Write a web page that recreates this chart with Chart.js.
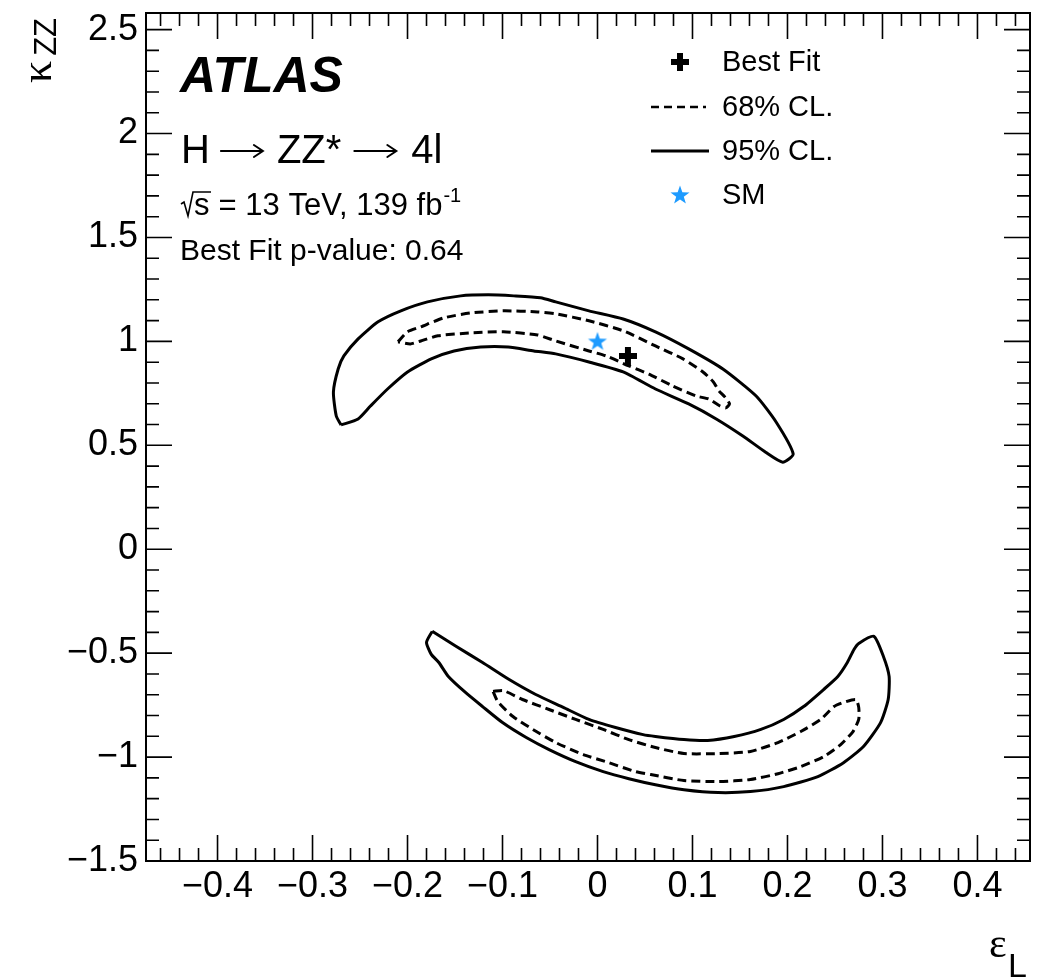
<!DOCTYPE html>
<html>
<head>
<meta charset="utf-8">
<script src="https://cdn.jsdelivr.net/npm/chart.js@4.4.1/dist/chart.umd.min.js"></script>
<style>
  html, body { margin: 0; padding: 0; background: #fff; }
  canvas { display: block; }
</style>
</head>
<body>
<canvas id="c" width="1045" height="978"></canvas>
<script>
// kappa_ZZ vs epsilon_L likelihood scan, H -> ZZ* -> 4l.
// Two separate allowed bands (kappa > 0 and kappa < 0), each with a 68% and 95% contour.

const X_MIN = -0.4753, X_MAX = 0.4553;
const Y_MIN = -1.5, Y_MAX = 2.58;
const X_TICKS = [-0.4, -0.3, -0.2, -0.1, 0, 0.1, 0.2, 0.3, 0.4];
const Y_TICKS = [-1.5, -1, -0.5, 0, 0.5, 1, 1.5, 2, 2.5];

// upper band, 95% CL (eps_L, kappa_ZZ)
const UPPER_95 = [
  [-0.270, 0.598], [-0.252, 0.627], [-0.239, 0.689], [-0.221, 0.771], [-0.200, 0.853],
  [-0.175, 0.916], [-0.151, 0.954], [-0.123, 0.973], [-0.094, 0.973], [-0.067, 0.954],
  [-0.044, 0.940], [-0.009, 0.901], [0.027, 0.853], [0.061, 0.771], [0.096, 0.699],
  [0.125, 0.627], [0.153, 0.545], [0.177, 0.467], [0.195, 0.419], [0.206, 0.458],
  [0.188, 0.612], [0.167, 0.737], [0.132, 0.867], [0.096, 0.964], [0.061, 1.046],
  [0.027, 1.108], [-0.009, 1.147], [-0.044, 1.190], [-0.060, 1.210], [-0.088, 1.219],
  [-0.115, 1.224], [-0.144, 1.219], [-0.179, 1.190], [-0.207, 1.147], [-0.231, 1.094],
  [-0.252, 1.012], [-0.267, 0.930], [-0.273, 0.867], [-0.278, 0.757], [-0.275, 0.641],
];

// upper band, 68% CL
const UPPER_68 = [
  [-0.210, 0.998], [-0.200, 1.046], [-0.186, 1.070], [-0.162, 1.113], [-0.133, 1.137],
  [-0.099, 1.147], [-0.063, 1.142], [-0.044, 1.133], [-0.009, 1.099], [0.027, 1.051],
  [0.061, 0.978], [0.090, 0.916], [0.111, 0.853], [0.122, 0.805], [0.128, 0.761],
  [0.134, 0.733], [0.139, 0.699], [0.135, 0.680], [0.129, 0.689], [0.117, 0.723],
  [0.104, 0.737], [0.079, 0.786], [0.054, 0.843], [0.033, 0.882], [0.009, 0.930],
  [-0.009, 0.954], [-0.044, 1.002], [-0.063, 1.031], [-0.099, 1.046], [-0.133, 1.041],
  [-0.168, 1.027], [-0.186, 1.002], [-0.197, 0.988],
];

// lower band, 95% CL
const LOWER_95 = [
  [-0.174, -0.395], [-0.180, -0.448], [-0.175, -0.506], [-0.167, -0.545], [-0.157, -0.612],
  [-0.139, -0.689], [-0.121, -0.757], [-0.100, -0.834], [-0.075, -0.906], [-0.051, -0.964],
  [-0.023, -1.022], [0.006, -1.070], [0.033, -1.104], [0.061, -1.133], [0.091, -1.157],
  [0.127, -1.171], [0.161, -1.166], [0.196, -1.142], [0.232, -1.094], [0.259, -1.027],
  [0.280, -0.949], [0.298, -0.834], [0.306, -0.723], [0.307, -0.612], [0.301, -0.516],
  [0.291, -0.419], [0.275, -0.453], [0.270, -0.482], [0.263, -0.545], [0.253, -0.612],
  [0.238, -0.675], [0.217, -0.757], [0.196, -0.819], [0.172, -0.867], [0.144, -0.901],
  [0.116, -0.920], [0.091, -0.916], [0.061, -0.901], [0.048, -0.892], [0.019, -0.858],
  [-0.009, -0.819], [-0.036, -0.761], [-0.065, -0.699], [-0.093, -0.627], [-0.121, -0.545],
  [-0.149, -0.467],
];

// lower band, 68% CL
const LOWER_68 = [
  [-0.110, -0.684], [-0.099, -0.680], [-0.079, -0.723], [-0.051, -0.771], [-0.023, -0.819],
  [0.006, -0.867], [0.033, -0.916], [0.061, -0.954], [0.091, -0.983], [0.127, -0.983],
  [0.161, -0.973], [0.190, -0.930], [0.214, -0.877], [0.235, -0.819], [0.249, -0.757],
  [0.259, -0.737], [0.272, -0.723], [0.275, -0.761], [0.275, -0.819], [0.269, -0.877],
  [0.256, -0.940], [0.238, -0.998], [0.214, -1.046], [0.190, -1.080], [0.161, -1.108],
  [0.127, -1.118], [0.091, -1.113], [0.056, -1.084], [0.040, -1.070], [0.012, -1.027],
  [-0.015, -0.988], [-0.044, -0.930], [-0.068, -0.867], [-0.089, -0.805], [-0.105, -0.733],
];

const BEST_FIT = [0.032, 0.930];
const SM_POINT = [0, 1];

const SANS = '"Liberation Sans", Arial, Helvetica, sans-serif';
const SERIF = '"Liberation Serif", "DejaVu Serif", serif';
const SM_BLUE = '#1e9bff';
const DASH = [9, 5];

const closed = pts => pts.concat([pts[0]]).map(([x, y]) => ({ x, y }));

// Filled plus for the best fit, filled 5-point star for the SM
function plusImage(size, thick, color) {
  const c = document.createElement('canvas');
  c.width = c.height = size;
  const g = c.getContext('2d');
  g.fillStyle = color;
  const o = (size - thick) / 2;
  g.fillRect(o, 0, thick, size);
  g.fillRect(0, o, size, thick);
  return c;
}

function starImage(r, color) {
  const c = document.createElement('canvas');
  c.width = c.height = 2 * r + 2;
  const g = c.getContext('2d');
  g.fillStyle = color;
  g.beginPath();
  for (let k = 0; k < 10; k++) {
    const rad = k % 2 ? r * 0.4 : r;
    const ang = -Math.PI / 2 + k * Math.PI / 5;
    g.lineTo(r + 1 + rad * Math.cos(ang), r + 1.5 + rad * Math.sin(ang));
  }
  g.closePath();
  g.fill();
  return c;
}

const PLUS = plusImage(18, 6, '#000');
const STAR = starImage(10, SM_BLUE);

const fmt = v => {
  const s = String(Math.abs(Math.round(v * 100) / 100));
  return (v < -1e-9 ? '\u2212' : '') + s;
};

// long thin arrow like ROOT's #rightarrow
function arrow(ctx, x0, x1, y) {
  ctx.save();
  ctx.lineWidth = 2;
  ctx.lineCap = 'round';
  ctx.beginPath();
  ctx.moveTo(x0, y); ctx.lineTo(x1, y);
  ctx.moveTo(x1 - 9, y - 6); ctx.lineTo(x1, y); ctx.lineTo(x1 - 9, y + 6);
  ctx.stroke();
  ctx.restore();
}

// ROOT-style frame: box plus inward ticks on all four sides
const frameTicks = {
  id: 'frameTicks',
  afterDatasetsDraw(chart) {
    const { ctx, chartArea: a, scales: { x, y } } = chart;
    ctx.save();
    ctx.strokeStyle = '#000';
    ctx.lineWidth = 1.6;
    ctx.beginPath();
    for (let i = Math.ceil(x.min / 0.02 - 1e-6); i * 0.02 <= x.max + 1e-9; i++) {
      const px = x.getPixelForValue(i * 0.02);
      const len = (Math.abs(i) % 5 === 0) ? 26 : 13;
      ctx.moveTo(px, a.bottom); ctx.lineTo(px, a.bottom - len);
      ctx.moveTo(px, a.top); ctx.lineTo(px, a.top + len);
    }
    for (let i = Math.ceil(y.min / 0.1 - 1e-6); i * 0.1 <= y.max + 1e-9; i++) {
      const py = y.getPixelForValue(i * 0.1);
      const len = (Math.abs(i) % 5 === 0) ? 26 : 13;
      ctx.moveTo(a.left, py); ctx.lineTo(a.left + len, py);
      ctx.moveTo(a.right, py); ctx.lineTo(a.right - len, py);
    }
    ctx.stroke();
    ctx.lineWidth = 2;
    ctx.strokeRect(a.left, a.top, a.right - a.left, a.bottom - a.top);
    ctx.restore();
  }
};

// Labels, axis titles and the legend block
const labels = {
  id: 'labels',
  afterDraw(chart) {
    const ctx = chart.ctx;
    ctx.save();
    ctx.fillStyle = '#000';
    ctx.strokeStyle = '#000';
    ctx.textBaseline = 'alphabetic';
    ctx.textAlign = 'left';

    ctx.font = `italic bold 50px ${SANS}`;
    ctx.fillText('ATLAS', 180, 92);

    // H -> ZZ* -> 4l
    ctx.font = `40px ${SANS}`;
    let tx = 181;
    ctx.fillText('H', tx, 163);
    tx += ctx.measureText('H').width + 11;
    arrow(ctx, tx, tx + 42, 151);
    tx += 42 + 14;
    ctx.fillText('ZZ*', tx, 163);
    tx += ctx.measureText('ZZ*').width + 13;
    arrow(ctx, tx, tx + 42, 151);
    tx += 42 + 15;
    ctx.fillText('4l', tx, 163);

    // sqrt(s) = 13 TeV, 139 fb^-1, radical drawn as a path
    ctx.lineWidth = 1.6;
    ctx.beginPath();
    ctx.moveTo(181, 204); ctx.lineTo(184, 202); ctx.lineTo(188, 216);
    ctx.lineTo(193, 192); ctx.lineTo(211, 192);
    ctx.stroke();
    ctx.font = `31px ${SANS}`;
    ctx.fillText('s', 194, 215);
    const mid = ' = 13 TeV, 139 fb';
    ctx.fillText(mid, 210, 215);
    const sx = 210 + ctx.measureText(mid).width;
    ctx.font = `20px ${SANS}`;
    ctx.fillText('-1', sx + 1, 202);

    ctx.font = `30px ${SANS}`;
    ctx.fillText('Best Fit p-value: 0.64', 180, 260);

    // legend
    ctx.font = `29px ${SANS}`;
    ctx.textBaseline = 'middle';
    ctx.drawImage(PLUS, 680 - 9, 62 - 9);
    ctx.fillText('Best Fit', 722, 63);
    ctx.lineWidth = 2.5;
    ctx.setLineDash([8, 5]);
    ctx.beginPath(); ctx.moveTo(651, 107); ctx.lineTo(706, 107); ctx.stroke();
    ctx.fillText('68% CL.', 722, 108);
    ctx.setLineDash([]);
    ctx.lineWidth = 3;
    ctx.beginPath(); ctx.moveTo(651, 151); ctx.lineTo(709, 151); ctx.stroke();
    ctx.fillText('95% CL.', 722, 152);
    ctx.drawImage(STAR, 680 - STAR.width / 2, 195 - STAR.height / 2);
    ctx.fillText('SM', 722, 196);

    // x title: epsilon_L
    ctx.textBaseline = 'alphabetic';
    ctx.font = `42px ${SERIF}`;
    ctx.fillText('\u03B5', 989, 957);
    ctx.font = `34px ${SANS}`;
    ctx.fillText('L', 1008, 977);

    // y title: kappa_ZZ, rotated
    ctx.translate(51, 83);
    ctx.rotate(-Math.PI / 2);
    ctx.font = `44px ${SERIF}`;
    ctx.fillText('\u03BA', 0, 0);
    const kW = ctx.measureText('\u03BA').width;
    ctx.font = `31px ${SANS}`;
    ctx.fillText('ZZ', kW + 5, 5);
    ctx.restore();
  }
};

const contour = (pts, dashed) => ({
  label: dashed ? '68% CL.' : '95% CL.',
  data: closed(pts),
  showLine: true,
  borderColor: '#000',
  borderWidth: 3,
  borderDash: dashed ? DASH : [],
  borderJoinStyle: 'round',
  pointRadius: 0,
  tension: 0.2,
});

new Chart(document.getElementById('c'), {
  type: 'scatter',
  data: {
    datasets: [
      {
        label: 'Best Fit',
        data: [{ x: BEST_FIT[0], y: BEST_FIT[1] }],
        pointStyle: PLUS, pointRadius: 9,
      },
      {
        label: 'SM',
        data: [{ x: SM_POINT[0], y: SM_POINT[1] }],
        pointStyle: STAR, pointRadius: 10,
      },
      contour(UPPER_68, true),
      contour(LOWER_68, true),
      contour(UPPER_95, false),
      contour(LOWER_95, false),
    ],
  },
  options: {
    responsive: false,
    animation: false,
    layout: { padding: { top: 13, right: 15, left: 0, bottom: 0 } },
    plugins: { legend: { display: false }, tooltip: { enabled: false } },
    scales: {
      x: {
        type: 'linear', min: X_MIN, max: X_MAX,
        afterFit: s => { s.height = 117; s.paddingLeft = 0; s.paddingRight = 0; },
        afterBuildTicks: s => { s.ticks = X_TICKS.map(v => ({ value: v })); },
        grid: { display: false, drawTicks: false },
        border: { display: false },
        ticks: {
          padding: 4, maxRotation: 0, autoSkip: false, color: '#000',
          font: { family: SANS, size: 36 },
          callback: v => fmt(v),
        },
      },
      y: {
        type: 'linear', min: Y_MIN, max: Y_MAX,
        afterFit: s => { s.width = 146; s.paddingTop = 0; s.paddingBottom = 0; },
        afterBuildTicks: s => { s.ticks = Y_TICKS.map(v => ({ value: v })); },
        grid: { display: false, drawTicks: false },
        border: { display: false },
        ticks: {
          padding: 8, autoSkip: false, color: '#000',
          font: { family: SANS, size: 36 },
          callback: v => fmt(v),
        },
      },
    },
  },
  plugins: [frameTicks, labels],
});
</script>
</body>
</html>
